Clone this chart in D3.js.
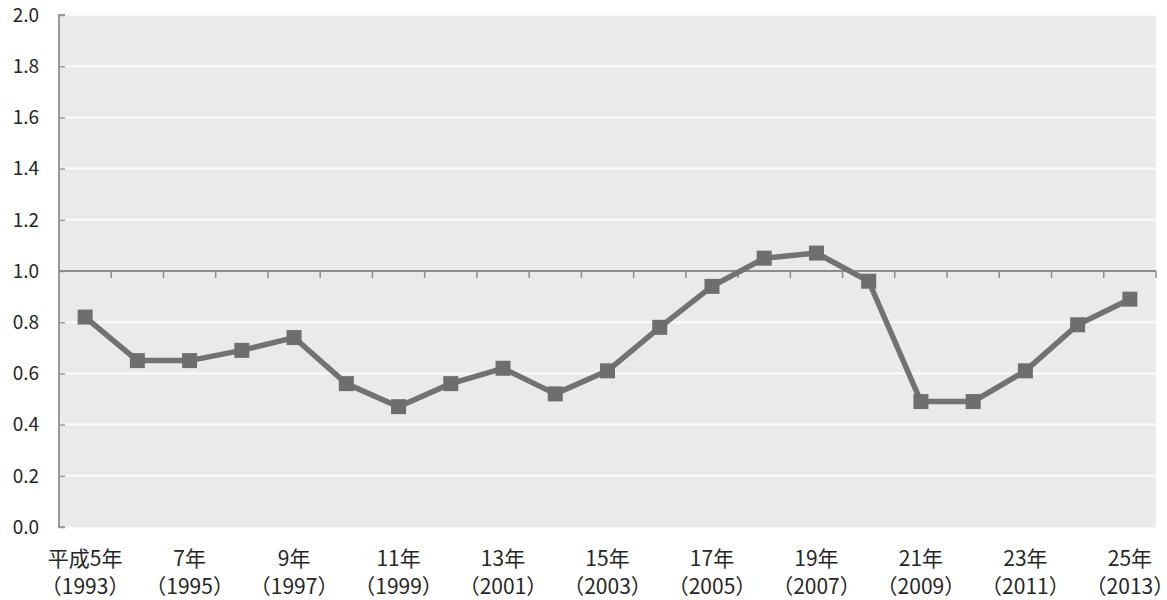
<!DOCTYPE html>
<html>
<head>
<meta charset="utf-8">
<script src="https://cdn.jsdelivr.net/npm/d3@7"></script>
<style>
  body { margin: 0; background: #fff; }
  svg { display: block; }
  text { font-family: "Noto Sans CJK JP", sans-serif; fill: #262626; }
  .yearline { font-feature-settings: "halt" 1; }
</style>
</head>
<body>
<svg id="chart" width="1167" height="600"></svg>
<script>
// Fiscal years 1993–2013 (Heisei 5–25)
const years = d3.range(1993, 2014);
const values = [0.82, 0.65, 0.65, 0.69, 0.74, 0.56, 0.47, 0.56, 0.62, 0.52,
                0.61, 0.78, 0.94, 1.05, 1.07, 0.96, 0.49, 0.49, 0.61, 0.79, 0.89];
const yTicks = [0, 0.2, 0.4, 0.6, 0.8, 1.0, 1.2, 1.4, 1.6, 1.8, 2.0];
const eraLabels = {1993: "平成5年", 1995: "7年", 1997: "9年", 1999: "11年", 2001: "13年",
                   2003: "15年", 2005: "17年", 2007: "19年", 2009: "21年", 2011: "23年", 2013: "25年"};

const svg = d3.select("#chart");
const plotL = 59, plotR = 1156, plotT = 15, plotB = 527;

const x = d3.scaleBand().domain(years).range([plotL, plotR]);
const y = d3.scaleLinear().domain([0, 2]).range([plotB, plotT]);

// plot background
svg.append("rect")
  .attr("x", plotL).attr("y", plotT)
  .attr("width", plotR - plotL).attr("height", plotB - plotT)
  .attr("fill", "#eaeaea")
  .attr("stroke", "#f3f3f3").attr("stroke-width", 1.5);

// horizontal gridlines
svg.append("g").selectAll("line")
  .data(yTicks.filter(d => d !== 1.0 && d !== 0))
  .join("line")
  .attr("x1", plotL).attr("x2", plotR)
  .attr("y1", d => y(d)).attr("y2", d => y(d))
  .attr("stroke", "#fbfbfb").attr("stroke-width", 2);

// y axis
const yAxis = svg.append("g")
  .attr("transform", `translate(${plotL},0)`)
  .call(d3.axisRight(y).tickValues(yTicks).tickSize(6).tickFormat(""));
yAxis.select(".domain").attr("stroke", "#999").attr("stroke-width", 2)
  .attr("d", `M6,${plotT}H0V${plotB}H6`);
yAxis.selectAll(".tick line").attr("stroke", "#999").attr("stroke-width", 1.5);

svg.append("g").selectAll("text")
  .data(yTicks)
  .join("text")
  .attr("x", 39).attr("y", d => y(d))
  .attr("dy", "0.36em")
  .attr("text-anchor", "end")
  .attr("font-size", 19)
  .text(d => d.toFixed(1));

// category axis crossing at 1.0
const boundaries = years.map(d => x(d)).concat([plotR]);
const xAxis = svg.append("g");
xAxis.append("line")
  .attr("x1", plotL).attr("x2", plotR)
  .attr("y1", y(1.0)).attr("y2", y(1.0))
  .attr("stroke", "#8c8c8c").attr("stroke-width", 2);
xAxis.selectAll("line.tick")
  .data(boundaries.slice(1))
  .join("line")
  .attr("class", "tick")
  .attr("x1", d => d).attr("x2", d => d)
  .attr("y1", y(1.0)).attr("y2", y(1.0) + 7)
  .attr("stroke", "#8c8c8c").attr("stroke-width", 1.5);

// category labels
const labelG = svg.append("g").selectAll("g")
  .data(years.filter(d => eraLabels[d]))
  .join("g")
  .attr("transform", d => `translate(${x(d) + x.bandwidth() / 2},0)`);
labelG.append("text")
  .attr("y", 566).attr("text-anchor", "middle").attr("font-size", 21)
  .text(d => eraLabels[d]);
labelG.append("text")
  .attr("class", "yearline")
  .attr("y", 593.5).attr("text-anchor", "middle").attr("font-size", 21)
  .text(d => `（${d}）`);

// series line and markers
const cx = d => x(d) + x.bandwidth() / 2;
const line = d3.line().x((v, i) => cx(years[i])).y(v => y(v));
svg.append("path")
  .datum(values)
  .attr("d", line)
  .attr("fill", "none")
  .attr("stroke", "#727272")
  .attr("stroke-width", 5.5)
  .attr("stroke-linejoin", "round");

const m = 15;
svg.append("g").selectAll("rect")
  .data(values)
  .join("rect")
  .attr("x", (v, i) => cx(years[i]) - m / 2)
  .attr("y", v => y(v) - m / 2)
  .attr("width", m).attr("height", m)
  .attr("fill", "#6e6e6e");
</script>
</body>
</html>
